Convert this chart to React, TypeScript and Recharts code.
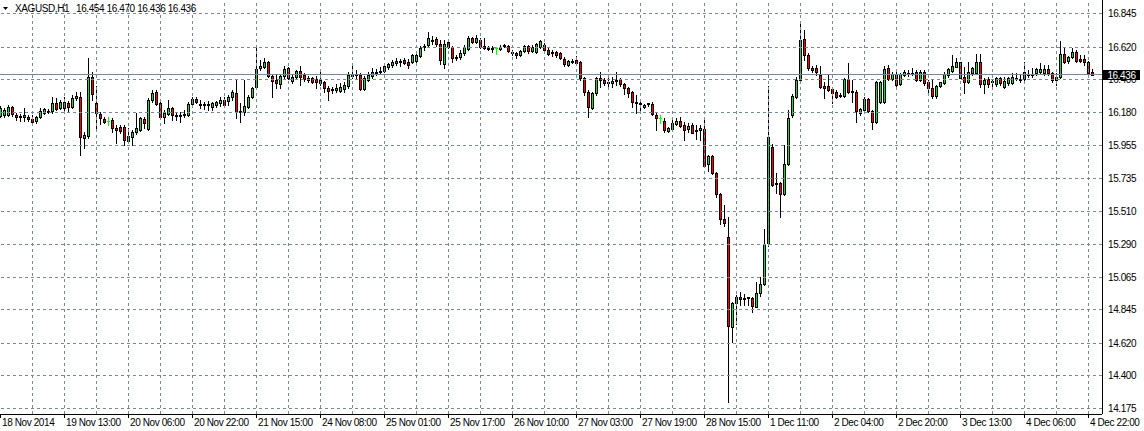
import React from 'react';
import { ComposedChart, Bar, XAxis, YAxis, ReferenceLine } from 'recharts';

// ---------- data (XAGUSD, H1) ----------
const symbolTitle = 'XAGUSD,H1';
const lastBarOHLC = ['16.454', '16.470', '16.436', '16.436'];
const lastPrice = 16.436;

const opens = [
  16.156, 16.163, 16.163, 16.217, 16.163, 16.156, 16.149, 16.149, 16.136, 16.122,
  16.149, 16.176, 16.190, 16.190, 16.244, 16.210, 16.210, 16.244, 16.217, 16.277,
  16.284, 16.007, 16.021, 16.419, 16.244, 16.169, 16.136, 16.122, 16.129, 16.075,
  16.082, 16.082, 15.987, 16.014, 16.048, 16.061, 16.136, 16.068, 16.264, 16.318,
  16.244, 16.149, 16.169, 16.210, 16.163, 16.163, 16.163, 16.163, 16.237, 16.271,
  16.240, 16.237, 16.230, 16.217, 16.230, 16.244, 16.264, 16.257, 16.284, 16.311,
  16.190, 16.183, 16.217, 16.284, 16.352, 16.480, 16.487, 16.521, 16.426, 16.399,
  16.372, 16.426, 16.480, 16.392, 16.419, 16.460, 16.433, 16.412, 16.412, 16.406,
  16.399, 16.385, 16.345, 16.331, 16.331, 16.325, 16.338, 16.358, 16.433, 16.440,
  16.433, 16.338, 16.399, 16.426, 16.450, 16.453, 16.460, 16.487, 16.500, 16.514,
  16.521, 16.534, 16.521, 16.521, 16.527, 16.561, 16.622, 16.636, 16.669, 16.676,
  16.642, 16.507, 16.656, 16.622, 16.548, 16.554, 16.581, 16.609, 16.683, 16.656,
  16.669, 16.629, 16.615, 16.612, 16.612, 16.609, 16.629, 16.629, 16.588, 16.581,
  16.568, 16.592, 16.629, 16.592, 16.588, 16.619, 16.636, 16.605, 16.581, 16.588,
  16.581, 16.544, 16.500, 16.524, 16.534, 16.521, 16.411, 16.320, 16.212, 16.309,
  16.411, 16.399, 16.386, 16.377, 16.396, 16.404, 16.370, 16.343, 16.318, 16.248,
  16.244, 16.215, 16.235, 16.237, 16.160, 16.140, 16.124, 16.057, 16.066, 16.102,
  16.122, 16.095, 16.066, 16.095, 16.059, 16.061, 16.068, 15.832, 15.886, 15.773,
  15.629, 15.460, 15.336, 14.732, 14.890, 14.935, 14.926, 14.931, 14.928, 14.867,
  14.958, 15.021, 15.296, 15.948, 15.703, 15.705, 15.627, 15.832, 16.163, 16.286,
  16.399, 16.676, 16.568, 16.483, 16.478, 16.433, 16.361, 16.359, 16.338, 16.320,
  16.293, 16.293, 16.404, 16.325, 16.320, 16.178, 16.196, 16.271, 16.190, 16.113,
  16.248, 16.248, 16.478, 16.406, 16.438, 16.370, 16.436, 16.446, 16.446, 16.451,
  16.399, 16.455, 16.384, 16.343, 16.291, 16.361, 16.377, 16.433, 16.462, 16.489,
  16.519, 16.417, 16.388, 16.444, 16.448, 16.521, 16.372, 16.404, 16.392, 16.372,
  16.411, 16.350, 16.377, 16.377, 16.411, 16.406, 16.404, 16.440, 16.433, 16.444,
  16.455, 16.448, 16.471, 16.444, 16.399, 16.421, 16.575, 16.530, 16.552, 16.586,
  16.539, 16.539, 16.523, 16.454,
];

const highs = [
  16.223, 16.210, 16.230, 16.223, 16.176, 16.169, 16.210, 16.163, 16.163, 16.156,
  16.210, 16.210, 16.203, 16.284, 16.277, 16.264, 16.284, 16.257, 16.298, 16.318,
  16.318, 16.048, 16.548, 16.453, 16.358, 16.183, 16.149, 16.149, 16.142, 16.095,
  16.095, 16.095, 16.075, 16.061, 16.176, 16.149, 16.149, 16.277, 16.331, 16.331,
  16.264, 16.196, 16.264, 16.217, 16.183, 16.183, 16.196, 16.250, 16.284, 16.284,
  16.264, 16.250, 16.257, 16.250, 16.257, 16.284, 16.284, 16.298, 16.331, 16.399,
  16.244, 16.399, 16.298, 16.352, 16.615, 16.534, 16.548, 16.527, 16.433, 16.440,
  16.440, 16.494, 16.487, 16.433, 16.467, 16.494, 16.446, 16.426, 16.419, 16.426,
  16.453, 16.392, 16.358, 16.352, 16.372, 16.379, 16.385, 16.453, 16.494, 16.467,
  16.446, 16.426, 16.453, 16.480, 16.473, 16.487, 16.500, 16.514, 16.534, 16.548,
  16.541, 16.548, 16.541, 16.575, 16.588, 16.629, 16.642, 16.723, 16.696, 16.690,
  16.669, 16.669, 16.669, 16.629, 16.568, 16.602, 16.636, 16.696, 16.690, 16.703,
  16.683, 16.683, 16.629, 16.629, 16.624, 16.636, 16.642, 16.636, 16.602, 16.588,
  16.602, 16.636, 16.636, 16.636, 16.649, 16.669, 16.649, 16.624, 16.602, 16.597,
  16.590, 16.552, 16.534, 16.539, 16.561, 16.530, 16.421, 16.331, 16.320, 16.421,
  16.455, 16.411, 16.411, 16.421, 16.455, 16.411, 16.377, 16.354, 16.327, 16.298,
  16.264, 16.237, 16.246, 16.253, 16.174, 16.163, 16.140, 16.084, 16.129, 16.140,
  16.151, 16.117, 16.106, 16.106, 16.095, 16.095, 16.136, 15.892, 15.892, 15.780,
  15.634, 15.555, 15.475, 14.901, 14.946, 14.969, 14.952, 14.935, 14.935, 15.032,
  15.070, 15.390, 16.359, 15.967, 15.773, 15.712, 15.960, 16.196, 16.304, 16.421,
  16.793, 16.737, 16.579, 16.491, 16.500, 16.491, 16.388, 16.433, 16.343, 16.331,
  16.311, 16.411, 16.511, 16.399, 16.331, 16.207, 16.286, 16.275, 16.196, 16.392,
  16.392, 16.491, 16.498, 16.451, 16.455, 16.446, 16.467, 16.467, 16.478, 16.467,
  16.467, 16.467, 16.399, 16.399, 16.365, 16.388, 16.455, 16.478, 16.568, 16.545,
  16.523, 16.489, 16.523, 16.489, 16.575, 16.573, 16.411, 16.421, 16.404, 16.421,
  16.421, 16.421, 16.421, 16.444, 16.444, 16.433, 16.523, 16.467, 16.478, 16.478,
  16.511, 16.500, 16.500, 16.455, 16.448, 16.663, 16.613, 16.561, 16.613, 16.602,
  16.568, 16.568, 16.530, 16.470,
];

const lows = [
  16.149, 16.149, 16.156, 16.156, 16.129, 16.122, 16.122, 16.122, 16.095, 16.109,
  16.142, 16.169, 16.176, 16.176, 16.196, 16.203, 16.196, 16.183, 16.210, 16.264,
  15.892, 15.940, 16.007, 16.264, 16.075, 16.102, 16.109, 16.095, 16.048, 15.973,
  16.041, 15.960, 15.980, 15.960, 16.034, 16.055, 16.075, 16.061, 16.250, 16.230,
  16.136, 16.109, 16.163, 16.129, 16.129, 16.115, 16.149, 16.156, 16.223, 16.244,
  16.210, 16.203, 16.196, 16.196, 16.217, 16.223, 16.217, 16.230, 16.264, 16.142,
  16.115, 16.163, 16.210, 16.277, 16.345, 16.467, 16.480, 16.419, 16.284, 16.345,
  16.345, 16.412, 16.406, 16.379, 16.412, 16.365, 16.392, 16.385, 16.379, 16.345,
  16.365, 16.318, 16.264, 16.311, 16.318, 16.318, 16.318, 16.345, 16.412, 16.406,
  16.331, 16.331, 16.392, 16.412, 16.433, 16.440, 16.453, 16.473, 16.487, 16.500,
  16.494, 16.507, 16.480, 16.514, 16.521, 16.554, 16.602, 16.629, 16.642, 16.629,
  16.507, 16.480, 16.615, 16.521, 16.534, 16.541, 16.568, 16.602, 16.649, 16.649,
  16.615, 16.609, 16.602, 16.588, 16.575, 16.602, 16.622, 16.588, 16.568, 16.548,
  16.561, 16.588, 16.581, 16.588, 16.581, 16.615, 16.590, 16.568, 16.561, 16.557,
  16.539, 16.494, 16.494, 16.511, 16.500, 16.399, 16.298, 16.151, 16.201, 16.298,
  16.354, 16.365, 16.350, 16.354, 16.365, 16.359, 16.304, 16.286, 16.219, 16.178,
  16.185, 16.210, 16.223, 16.163, 16.061, 16.110, 16.050, 16.050, 16.061, 16.095,
  16.084, 15.994, 16.050, 16.039, 15.998, 15.994, 15.813, 15.786, 15.764, 15.606,
  15.426, 15.413, 14.219, 14.631, 14.750, 14.879, 14.879, 14.879, 14.834, 14.863,
  14.940, 15.014, 15.277, 15.683, 15.638, 15.475, 15.622, 15.825, 16.149, 16.277,
  16.388, 16.534, 16.467, 16.455, 16.433, 16.347, 16.275, 16.325, 16.242, 16.275,
  16.284, 16.286, 16.309, 16.252, 16.117, 16.163, 16.185, 16.185, 16.068, 16.106,
  16.242, 16.242, 16.399, 16.399, 16.361, 16.365, 16.426, 16.426, 16.433, 16.392,
  16.392, 16.365, 16.320, 16.275, 16.275, 16.354, 16.372, 16.421, 16.455, 16.485,
  16.411, 16.309, 16.377, 16.433, 16.444, 16.354, 16.309, 16.354, 16.350, 16.359,
  16.365, 16.343, 16.365, 16.372, 16.399, 16.388, 16.399, 16.421, 16.421, 16.433,
  16.444, 16.433, 16.433, 16.388, 16.365, 16.415, 16.511, 16.511, 16.545, 16.523,
  16.523, 16.500, 16.444, 16.436,
];

const closes = [
  16.210, 16.196, 16.217, 16.169, 16.149, 16.149, 16.163, 16.136, 16.115, 16.149,
  16.190, 16.203, 16.183, 16.244, 16.203, 16.250, 16.250, 16.217, 16.277, 16.291,
  16.014, 16.027, 16.419, 16.304, 16.176, 16.142, 16.115, 16.122, 16.075, 16.061,
  16.055, 15.994, 16.021, 16.048, 16.075, 16.142, 16.109, 16.264, 16.311, 16.237,
  16.149, 16.176, 16.210, 16.163, 16.156, 16.156, 16.169, 16.237, 16.271, 16.250,
  16.233, 16.230, 16.237, 16.244, 16.247, 16.264, 16.230, 16.284, 16.318, 16.183,
  16.183, 16.223, 16.284, 16.345, 16.473, 16.494, 16.521, 16.426, 16.392, 16.379,
  16.426, 16.473, 16.412, 16.419, 16.460, 16.419, 16.406, 16.399, 16.385, 16.385,
  16.379, 16.345, 16.325, 16.338, 16.345, 16.352, 16.365, 16.433, 16.436, 16.433,
  16.338, 16.412, 16.433, 16.453, 16.453, 16.460, 16.494, 16.507, 16.521, 16.527,
  16.524, 16.514, 16.500, 16.568, 16.571, 16.615, 16.629, 16.683, 16.663, 16.642,
  16.534, 16.642, 16.622, 16.548, 16.554, 16.581, 16.622, 16.683, 16.656, 16.683,
  16.622, 16.615, 16.612, 16.609, 16.612, 16.622, 16.636, 16.592, 16.581, 16.565,
  16.595, 16.629, 16.592, 16.622, 16.639, 16.663, 16.602, 16.575, 16.588, 16.568,
  16.548, 16.507, 16.527, 16.527, 16.516, 16.411, 16.320, 16.215, 16.313, 16.411,
  16.399, 16.377, 16.379, 16.394, 16.399, 16.370, 16.343, 16.313, 16.248, 16.242,
  16.237, 16.230, 16.242, 16.169, 16.140, 16.140, 16.061, 16.073, 16.106, 16.124,
  16.088, 16.061, 16.088, 16.043, 16.054, 16.077, 15.820, 15.886, 15.769, 15.627,
  15.458, 15.431, 14.737, 14.890, 14.935, 14.917, 14.919, 14.926, 14.874, 14.962,
  15.019, 15.291, 16.012, 15.690, 15.696, 15.627, 15.832, 16.140, 16.291, 16.399,
  16.669, 16.568, 16.478, 16.467, 16.451, 16.354, 16.343, 16.331, 16.309, 16.286,
  16.298, 16.404, 16.320, 16.316, 16.192, 16.203, 16.271, 16.190, 16.113, 16.383,
  16.383, 16.473, 16.406, 16.438, 16.365, 16.438, 16.450, 16.440, 16.440, 16.399,
  16.451, 16.377, 16.343, 16.291, 16.359, 16.384, 16.440, 16.471, 16.494, 16.519,
  16.415, 16.388, 16.451, 16.482, 16.521, 16.372, 16.399, 16.372, 16.386, 16.411,
  16.377, 16.394, 16.411, 16.421, 16.404, 16.399, 16.451, 16.433, 16.440, 16.471,
  16.471, 16.473, 16.444, 16.399, 16.417, 16.575, 16.523, 16.557, 16.586, 16.530,
  16.530, 16.523, 16.448, 16.436,
];

// time-axis labels and the bar index each one sits on
const timeLabels = [
  '18 Nov 2014', '19 Nov 13:00', '20 Nov 06:00', '20 Nov 22:00', '21 Nov 15:00',
  '24 Nov 08:00', '25 Nov 01:00', '25 Nov 17:00', '26 Nov 10:00', '27 Nov 03:00',
  '27 Nov 19:00', '28 Nov 15:00', '1 Dec 11:00', '2 Dec 04:00', '2 Dec 20:00',
  '3 Dec 13:00', '4 Dec 06:00', '4 Dec 22:00',
];
const labelBars = [0, 16, 32, 48, 64, 80, 96, 112, 128, 144, 160, 176, 192, 208, 224, 240, 256, 272];
const gridBars = [8, 16, 24, 32, 40, 48, 56, 64, 72, 80, 88, 96, 104, 112, 120, 128, 136, 144,
  152, 160, 168, 176, 184, 192, 200, 208, 216, 224, 232, 240, 248, 256, 264, 272];

const priceTicks = [16.845, 16.62, 16.4, 16.18, 15.955, 15.735, 15.51, 15.29, 15.065, 14.845, 14.62, 14.4, 14.175];
const priceDomain: [number, number] = [14.1412, 16.9396];
const barDomain: [number, number] = [-0.125, 275.375];

// ---------- styles ----------
const FONT = '"Liberation Sans", Arial, sans-serif';
const UP = '#32CD32';
const DOWN = '#FF0000';
const DOJI = '#00FF00';
const GRID = '#778899';

const bars = opens.map((o, i) => ({
  idx: i,
  open: o,
  high: highs[i],
  low: lows[i],
  close: closes[i],
  range: [lows[i], highs[i]],
}));

// price-axis ticks: grid prices first, the current bid tag last so it is painted on top
const axisTicks = [...priceTicks, lastPrice];

const CandleShape = (props: any) => {
  const { x, y, width, height, payload } = props;
  if (!payload || x == null) return null;
  const { open, close, high, low } = payload;
  const top = Math.min(y, y + height);
  const bottom = Math.max(y, y + height);
  const span = high - low;
  const k = span > 0 ? (bottom - top) / span : 0;
  const py = (v: number) => top + (high - v) * k;
  const cx = Math.floor(x + width / 2) + 0.5;
  const yH = Math.round(py(high));
  const yL = Math.round(py(low));
  if (open === close) {
    const yo = Math.round(py(open)) + 0.5;
    return (
      <g shapeRendering="crispEdges">
        <line x1={cx} x2={cx} y1={yH} y2={yL + 1} stroke={DOJI} />
        <line x1={cx - 1.5} x2={cx + 1.5} y1={yo} y2={yo} stroke={DOJI} />
      </g>
    );
  }
  const bull = close > open;
  const yT = Math.round(py(Math.max(open, close)));
  const yB = Math.round(py(Math.min(open, close)));
  return (
    <g shapeRendering="crispEdges">
      <line x1={cx} x2={cx} y1={yH} y2={yL + 1} stroke="#000" />
      <rect x={cx - 1} y={yT + 0.5} width={2} height={Math.max(yB - yT, 1)} fill={bull ? UP : DOWN} stroke="#000" />
    </g>
  );
};

const TimeTick = (props: any) => {
  const { x, y, payload } = props;
  const pos = labelBars.indexOf(payload.value);
  const label = pos >= 0 ? timeLabels[pos] : '';
  const lx = Math.floor(x) + 0.5;
  return (
    <g>
      <line x1={lx} x2={lx} y1={y} y2={y + 4} stroke="#000" shapeRendering="crispEdges" />
      <text x={lx + 1.5} y={y + 12} fontFamily={FONT} fontSize={10} letterSpacing={-0.4} fill="#000" textAnchor="start">
        {label}
      </text>
    </g>
  );
};

const PriceTick = (props: any) => {
  const { x, y, payload } = props;
  const v = Number(payload.value);
  if (v === lastPrice) {
    const yy = Math.round(y);
    return (
      <g>
        <rect x={x + 1} y={yy - 5} width={37} height={10} fill="#000" shapeRendering="crispEdges" />
        <text x={x + 19.5} y={yy} dy="0.36em" fontFamily={FONT} fontSize={10} letterSpacing={-0.4} fill="#fff" textAnchor="middle">
          {v.toFixed(3)}
        </text>
      </g>
    );
  }
  return (
    <text x={x + 6} y={y} dy="0.35em" fontFamily={FONT} fontSize={10} letterSpacing={-0.4} fill="#000" textAnchor="start">
      {v.toFixed(3)}
    </text>
  );
};

export default function App() {
  return (
    <div style={{ position: 'absolute', left: 0, top: 0, width: 1144, height: 431, background: '#fff' }}>
      <ComposedChart width={1144} height={431} data={bars} margin={{ top: 0, right: 0, bottom: 0, left: 0 }}>
        <XAxis
          dataKey="idx"
          type="number"
          domain={barDomain}
          allowDataOverflow
          ticks={labelBars}
          interval={0}
          tick={<TimeTick />}
          tickLine={false}
          tickSize={0}
          tickMargin={0}
          axisLine={{ stroke: '#000', shapeRendering: 'crispEdges' }}
          height={17}
        />
        <YAxis
          orientation="right"
          type="number"
          domain={priceDomain}
          allowDataOverflow
          ticks={axisTicks}
          interval={0}
          tick={<PriceTick />}
          tickLine={false}
          tickSize={0}
          tickMargin={0}
          axisLine={{ stroke: '#000', shapeRendering: 'crispEdges' }}
          width={42}
        />
        {priceTicks.map((p) => (
          <ReferenceLine key={'h' + p} y={p} stroke={GRID} strokeDasharray="3 3" shapeRendering="crispEdges" />
        ))}
        {gridBars.map((b) => (
          <ReferenceLine key={'v' + b} x={b} stroke={GRID} strokeDasharray="3 3" shapeRendering="crispEdges" />
        ))}
        <ReferenceLine y={lastPrice} stroke={GRID} shapeRendering="crispEdges" />
        <Bar dataKey="range" shape={<CandleShape />} barSize={3} isAnimationActive={false} />
      </ComposedChart>
      <svg width={260} height={16} style={{ position: 'absolute', left: 0, top: 0 }}>
        <polygon points="3,7 8,7 5.5,10" fill="#000" />
        <text x={15} y={12} fontFamily={FONT} fontSize={10} letterSpacing={-0.4} fill="#000">
          {symbolTitle}
        </text>
        <text x={76} y={12} fontFamily={FONT} fontSize={10} letterSpacing={-0.4} fill="#000" xmlSpace="preserve">
          {lastBarOHLC.join(' ')}
        </text>
      </svg>
    </div>
  );
}
